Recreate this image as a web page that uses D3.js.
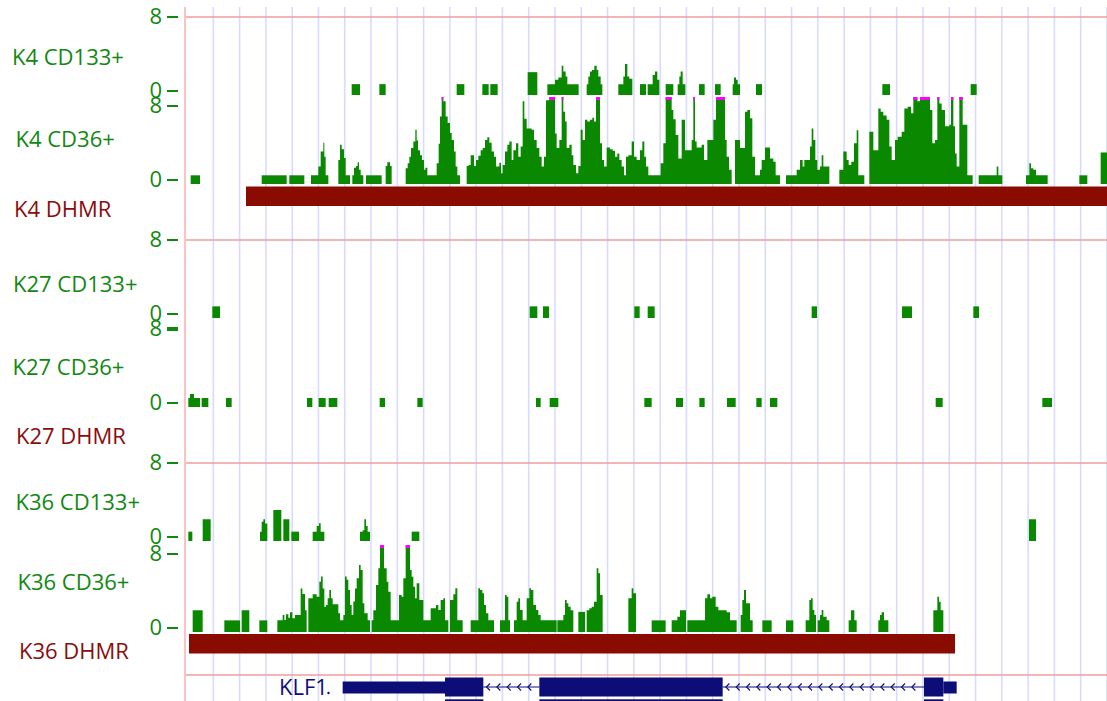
<!DOCTYPE html>
<html>
<head>
<meta charset="utf-8">
<script src="https://cdn.jsdelivr.net/npm/d3@7"></script>
<style>
  html, body { margin: 0; padding: 0; background: #fff; }
  svg { display: block; font-family: "Open Sans", "Noto Sans", sans-serif; }
</style>
</head>
<body>
<svg id="chart" width="1107" height="701"></svg>
<script>
// ---- Window and axis values (positions are bp from the window start) ----
const viewSpan = 2763;
const viewMax = 8;
const tickValues = [0, 8];
const gridStart = 82;
const gridStep = 78.85;

const trackLabels = [
  "K4 CD133+", "K4 CD36+", "K4 DHMR",
  "K27 CD133+", "K27 CD36+", "K27 DHMR",
  "K36 CD133+", "K36 CD36+", "K36 DHMR"
];

// ---- Coverage signal: [start, end, value] ----
const k4Cd133 = [
  [497,522,1.0],[580,599,1.0],[812,835,1.0],[889,908,1.0],[913,935,1.0],[1025,1054,2.1],
  [1084,1107,1.0],[1107,1117,1.4],[1117,1127,1.6],[1127,1132,2.7],[1132,1139,2.15],[1139,1144,1.7],[1144,1178,1.0],
  [1202,1207,1.0],[1207,1212,1.7],[1212,1218,2.15],[1218,1225,2.3],[1225,1232,2.7],[1232,1237,2.3],[1237,1244,1.7],[1244,1249,1.0],
  [1297,1312,1.0],[1312,1317,1.7],[1317,1324,2.85],[1324,1330,1.7],[1330,1339,1.5],
  [1362,1380,1.0],
  [1385,1400,1.0],[1400,1407,1.85],[1407,1414,2.15],[1414,1420,1.4],
  [1439,1462,1.0],
  [1475,1480,1.0],[1480,1484,1.7],[1484,1490,2.15],[1490,1498,1.0],
  [1539,1556,1.0],[1587,1604,1.0],
  [1640,1644,1.0],[1644,1650,1.6],[1650,1655,1.4],[1655,1662,1.0],
  [1710,1728,1.0],[2089,2112,1.0],[2354,2372,1.0]
];

const k4Cd36 = [
  [14,42,0.8],
  [227,302,0.8],[310,355,0.8],
  [375,397,0.8],[397,404,1.6],[404,412,3.0],[412,415,3.8],[415,419,2.5],[419,427,0.8],
  [457,462,2.2],[462,467,3.6],[467,474,3.2],[474,479,2.4],[479,492,0.8],
  [499,504,0.8],[504,510,1.5],[510,515,1.65],[515,519,2.0],[519,524,1.3],[524,532,0.8],
  [540,587,0.8],
  [599,604,1.65],[604,612,2.0],[612,617,1.65],
  [659,665,1.45],[665,670,1.9],[670,675,2.5],[675,682,3.3],[682,688,3.9],[688,692,5.0],[692,696,4.0],[696,702,3.1],
  [702,708,2.65],[708,714,2.2],[714,718,1.3],[718,724,1.5],[724,752,0.8],[752,758,1.9],[758,762,3.7],[762,767,6.2],
  [767,772,8.6],[772,779,7.6],[779,785,6.2],[785,792,5.6],[792,797,4.7],[797,804,4.05],[804,809,3.0],[809,814,1.6],[814,822,0.8],
  [842,848,1.65],[848,854,1.75],[854,864,2.65],[864,870,1.65],[870,877,2.2],[877,884,2.6],[884,890,3.1],[890,897,3.3],
  [897,904,4.05],[904,910,4.3],[910,917,3.8],[917,924,3.0],[924,930,2.5],[930,940,1.6],[940,945,1.95],[945,950,1.0],
  [950,957,1.75],[957,964,3.0],[964,970,3.6],[970,977,3.9],[977,982,2.2],[982,990,3.1],[990,997,3.75],[997,1004,2.5],
  [1004,1010,3.45],[1010,1015,7.6],[1015,1022,6.0],[1022,1037,5.1],[1037,1044,5.0],[1044,1052,4.05],[1052,1060,3.3],
  [1060,1067,2.5],[1067,1074,1.6],[1074,1080,2.5],[1080,1090,7.7],[1090,1107,8.6],[1107,1112,4.65],[1112,1120,3.3],
  [1120,1127,4.05],[1127,1132,8.6],[1132,1137,6.65],[1137,1142,5.75],[1142,1150,3.3],[1150,1157,3.6],[1157,1162,2.65],
  [1162,1170,1.75],[1170,1177,1.0],[1177,1184,1.65],[1184,1190,5.0],[1190,1197,4.05],[1197,1204,5.9],[1204,1212,5.75],
  [1212,1219,5.9],[1219,1224,6.1],[1224,1230,5.75],[1230,1242,8.6],[1242,1248,3.75],[1248,1254,2.2],[1254,1262,1.6],
  [1262,1272,3.35],[1272,1280,3.2],[1280,1287,3.05],[1287,1294,2.5],[1294,1300,2.8],[1300,1307,2.2],[1307,1314,1.6],
  [1314,1320,0.8],[1320,1327,2.5],[1327,1337,2.65],[1337,1344,3.9],[1344,1352,2.5],[1352,1362,2.2],
  [1362,1369,3.1],[1369,1375,3.9],[1375,1380,2.5],[1380,1387,1.6],[1387,1424,0.8],[1424,1432,1.9],[1432,1439,3.75],
  [1439,1457,8.6],[1457,1462,6.8],[1462,1469,5.95],[1469,1477,4.5],[1477,1487,2.35],[1487,1497,5.9],[1497,1517,3.1],
  [1517,1522,4.05],[1522,1527,8.6],[1527,1532,3.9],[1532,1547,3.35],[1547,1554,3.6],[1554,1564,2.2],[1564,1582,4.05],
  [1582,1590,5.9],[1590,1617,8.6],[1617,1622,4.05],[1622,1629,2.5],[1629,1637,1.3],
  [1647,1662,4.05],[1662,1677,3.3],[1677,1684,6.65],[1684,1692,6.8],[1692,1699,6.05],[1699,1707,2.5],[1707,1722,0.8],
  [1722,1727,1.3],[1727,1737,2.2],[1737,1752,3.35],[1752,1762,2.35],[1762,1769,2.05],[1769,1782,0.8],
  [1800,1832,0.8],[1832,1842,1.3],[1842,1850,2.2],[1850,1855,1.6],[1855,1872,2.2],[1872,1877,3.45],[1877,1882,5.1],
  [1882,1888,4.05],[1888,1894,2.2],[1894,1902,1.3],[1902,1907,1.6],[1907,1912,2.65],[1912,1930,1.6],
  [1960,1972,1.3],[1972,1982,3.0],[1982,1988,2.2],[1988,1996,1.75],[1996,2004,2.05],[2004,2012,3.75],[2012,2017,4.95],[2017,2035,0.8],
  [2050,2062,4.8],[2062,2077,3.1],[2077,2084,6.95],[2084,2092,6.65],[2092,2102,6.3],[2102,2110,5.9],[2110,2117,3.45],
  [2117,2127,2.2],[2127,2135,4.05],[2135,2147,4.35],[2147,2155,4.8],[2155,2165,6.95],[2165,2175,7.1],[2175,2182,6.5],
  [2182,2194,8.6],[2194,2202,7.6],[2202,2232,8.6],[2232,2239,6.8],[2239,2247,3.75],[2247,2254,4.05],[2254,2260,8.6],
  [2260,2267,7.4],[2267,2277,6.8],[2277,2290,5.3],[2290,2295,5.45],[2295,2302,8.6],[2302,2307,5.3],[2307,2312,2.8],
  [2312,2320,1.6],[2320,2330,8.6],[2330,2344,5.45],[2344,2360,0.8],
  [2378,2432,0.8],[2432,2437,1.6],[2437,2449,0.8],
  [2520,2530,0.8],[2530,2535,1.9],[2535,2542,1.45],[2542,2550,1.3],[2550,2585,0.8],
  [2680,2704,0.8],
  [2744,2763,2.9]
];

const k27Cd133 = [
  [79,102,1.07],[1031,1054,1.07],[1071,1089,1.07],[1345,1361,1.07],[1385,1406,1.07],
  [1877,1893,1.07],[2148,2178,1.07],[2362,2379,1.07]
];

const k27Cd36 = [
  [7,12,0.83],[12,24,1.2],[24,42,0.83],[47,67,0.83],[120,137,0.83],[363,379,0.83],[398,419,0.83],
  [428,454,0.83],[581,597,0.83],[694,710,0.83],[1050,1064,0.83],[1091,1117,0.83],[1375,1397,0.83],
  [1470,1491,0.83],[1540,1556,0.83],[1623,1649,0.83],[1711,1727,0.83],[1752,1774,0.83],
  [2249,2270,0.83],[2569,2598,0.83]
];

const k36Cd133 = [
  [7,19,0.86],[50,74,2.0],[222,227,0.86],[227,232,1.78],[232,237,2.0],[237,244,1.6],[262,286,2.85],
  [292,310,2.0],[316,339,0.86],[380,392,0.86],[392,399,1.38],[399,404,1.63],[404,415,0.86],
  [522,530,0.86],[530,535,1.0],[535,540,2.0],[540,545,1.38],[545,552,0.86],[677,700,0.86],[2529,2550,2.0]
];

const k36Cd36 = [
  [20,50,2.0],[115,162,1.07],[167,190,2.0],[220,244,1.07],
  [274,290,1.07],[290,295,1.56],[295,300,1.1],[300,307,1.63],[307,312,1.32],[312,319,1.81],[319,327,1.26],
  [327,344,1.56],[344,349,4.0],[349,357,3.5],[357,362,2.0],
  [367,380,3.1],[380,392,3.47],[392,400,3.25],[400,405,4.63],[405,410,5.1],[410,415,4.0],[415,420,2.33],
  [420,425,2.48],[425,430,3.1],[430,435,3.87],[435,440,3.1],[440,457,2.55],[457,462,1.72],
  [462,472,1.07],[472,477,1.56],[477,482,5.1],[482,487,4.8],[487,492,3.87],[492,497,2.48],[497,502,1.56],
  [502,507,2.8],[507,512,4.0],[512,519,4.94],[519,524,6.17],[524,530,5.7],[530,535,2.64],[535,545,1.72],[545,552,1.07],
  [557,562,1.07],[562,570,2.0],[570,577,4.33],[577,582,5.86],[582,594,8.6],[594,602,5.86],[602,607,4.63],
  [607,614,3.71],[614,632,1.07],
  [632,639,1.07],[639,647,3.4],[647,652,3.25],[652,659,4.94],[659,672,8.6],[672,677,5.7],[677,682,5.09],
  [682,687,4.17],[687,692,3.1],[692,700,4.48],[700,712,2.94],
  [712,734,1.07],[734,750,2.18],[750,757,2.48],[757,764,2.02],[764,772,2.94],[772,777,3.1],[777,787,1.07],
  [792,802,2.94],[802,808,3.47],[808,814,4.02],[814,830,1.07],
  [854,877,1.07],[877,882,4.02],[882,889,3.87],[889,894,3.56],[894,900,2.48],[900,907,1.72],[907,924,1.07],
  [942,957,1.07],[957,962,3.4],[962,967,3.25],[967,972,1.07],
  [984,992,1.07],[992,997,2.79],[997,1002,3.1],[1002,1010,2.02],[1010,1022,1.07],[1022,1030,3.1],[1030,1035,4.02],
  [1035,1042,3.87],[1042,1050,2.48],[1050,1057,2.02],[1057,1064,1.56],[1064,1112,1.07],
  [1114,1132,1.07],[1132,1137,1.56],[1137,1142,2.94],[1142,1147,2.64],[1147,1154,2.33],[1154,1162,2.0],
  [1177,1197,1.85],[1202,1210,2.0],[1210,1217,2.18],[1217,1224,2.33],[1224,1232,2.79],[1232,1237,5.86],
  [1237,1242,5.4],[1242,1250,3.4],
  [1327,1337,3.1],[1337,1342,4.02],[1342,1350,3.56],
  [1397,1439,1.07],
  [1457,1474,1.07],[1474,1482,1.4],[1482,1500,2.0],
  [1504,1557,1.07],[1557,1564,3.1],[1564,1572,3.47],[1572,1579,3.1],[1579,1589,3.25],[1589,1597,2.33],
  [1597,1622,2.0],[1622,1632,1.81],[1632,1652,1.07],
  [1664,1669,1.56],[1669,1674,2.94],[1674,1680,3.87],[1680,1692,2.64],[1692,1700,1.07],
  [1729,1757,1.07],[1800,1822,1.07],
  [1859,1870,1.07],[1870,1875,2.94],[1875,1880,3.1],[1880,1885,2.02],[1885,1890,1.56],
  [1895,1902,1.07],[1902,1907,1.56],[1907,1912,2.02],[1912,1922,1.4],[1922,1930,1.07],
  [1988,1995,1.07],[1995,2005,2.0],[2005,2012,1.07],
  [2077,2082,1.07],[2082,2087,1.56],[2087,2094,1.81],[2094,2107,1.07],
  [2242,2254,2.0],[2254,2259,3.25],[2259,2264,2.79],[2264,2272,2.0]
];

// ---- Differentially methylated regions: [start, end] ----
const k4Dhmr = [[180, 2763]];
const k27Dhmr = [];
const k36Dhmr = [[9, 2307]];

// ---- Gene model (minus strand) ----
const geneName = "KLF1";
const geneUtr = [[470, 777], [2272, 2312]];
const geneCds = [[777, 892], [1060, 1610], [2214, 2272]];
const geneIntrons = [[892, 1060], [1610, 2214]];

// ---- Layout ----
const W = 1107, H = 701;
const plotLeft = 186, plotRight = 1107;
const pxPerUnit = 10.875;
const colors = {
  bar: "#0a8800", clip: "#ff00ff", label: "#118811", dhmr: "#8a0b00", dhmrLabel: "#8a0c0c",
  grid: "#dadaff", sep: "#ef9c9c", edge: "#ffc2c2", gene: "#0d0d78"
};

const tracks = [
  { type: "signal", data: k4Cd133, base: 95,  lx: 12,   ly: 65 },
  { type: "signal", data: k4Cd36,  base: 184, lx: 15.5, ly: 146.5 },
  { type: "region", data: k4Dhmr,  top: 186.5, bottom: 206, lx: 14, ly: 216.5 },
  { type: "signal", data: k27Cd133, base: 318, lx: 13, ly: 291.5 },
  { type: "signal", data: k27Cd36,  base: 407, lx: 12.5, ly: 375, heavyTop: true },
  { type: "region", data: k27Dhmr,  top: 410, bottom: 430, lx: 16, ly: 443.5 },
  { type: "signal", data: k36Cd133, base: 541, lx: 15.5, ly: 510 },
  { type: "signal", data: k36Cd36,  base: 632, lx: 17.5, ly: 590 },
  { type: "region", data: k36Dhmr,  top: 634, bottom: 653.5, lx: 19, ly: 658.5 }
];
const separators = [17, 240, 463, 675];

const svg = d3.select("#chart");
svg.append("rect").attr("width", W).attr("height", H).attr("fill", "#fff");

const x = d3.scaleLinear().domain([0, viewSpan]).range([plotLeft, plotRight]);

// vertical guide lines
svg.append("g").selectAll("line")
  .data(d3.range(gridStart, viewSpan, gridStep))
  .join("line")
  .attr("x1", d => x(d)).attr("x2", d => x(d))
  .attr("y1", 7).attr("y2", H)
  .attr("stroke", colors.grid).attr("stroke-width", 1.6);

// left edge of the data area
svg.append("line")
  .attr("x1", plotLeft - 1).attr("x2", plotLeft - 1).attr("y1", 7).attr("y2", H)
  .attr("stroke", colors.edge).attr("stroke-width", 2);

// group separators
svg.append("g").selectAll("line").data(separators).join("line")
  .attr("x1", plotLeft).attr("x2", plotRight)
  .attr("y1", d => d).attr("y2", d => d)
  .attr("stroke", colors.sep).attr("stroke-width", 1.6);

const marks = svg.append("g");
const axes = svg.append("g");

tracks.forEach((t, i) => {
  const isRegion = t.type === "region";
  // track label
  svg.append("text")
    .attr("x", t.lx).attr("y", t.ly)
    .attr("font-size", 22)
    .attr("fill", isRegion ? colors.dhmrLabel : colors.label)
    .text(trackLabels[i]);

  if (isRegion) {
    marks.append("g").selectAll("rect").data(t.data).join("rect")
      .attr("x", d => x(d[0])).attr("width", d => x(d[1]) - x(d[0]))
      .attr("y", t.top).attr("height", t.bottom - t.top)
      .attr("fill", colors.dhmr);
    return;
  }

  const y = d3.scaleLinear().domain([0, viewMax]).range([t.base, t.base - viewMax * pxPerUnit]);

  // merge touching intervals into continuous step outlines
  const runs = [];
  t.data.forEach(s => {
    const last = runs[runs.length - 1];
    if (last && Math.abs(last[last.length - 1][1] - s[0]) < 0.01) last.push(s);
    else runs.push([s]);
  });
  const area = d3.area()
    .x(d => x(d[0]))
    .y0(t.base)
    .y1(d => y(Math.min(d[1], viewMax)))
    .curve(d3.curveStepAfter);
  const g = marks.append("g");
  g.selectAll("path").data(runs).join("path")
    .attr("d", run => area(run.map(s => [s[0], s[2]]).concat([[run[run.length - 1][1], run[run.length - 1][2]]])))
    .attr("fill", colors.bar);

  // values above the viewing range get a clipped marker
  g.selectAll("rect").data(t.data.filter(s => s[2] > viewMax)).join("rect")
    .attr("x", s => x(s[0])).attr("width", s => x(s[1]) - x(s[0]))
    .attr("y", y(viewMax)).attr("height", 3)
    .attr("fill", colors.clip);

  // range ticks
  const ya = d3.scaleLinear().domain([0, viewMax]).range([t.base - 4.5, t.base - 78.5]);
  const ax = axes.append("g")
    .attr("transform", "translate(178,0)")
    .call(d3.axisLeft(ya).tickValues(tickValues).tickSize(11).tickPadding(5).tickFormat(d3.format("d")));
  ax.select(".domain").remove();
  ax.selectAll("line").attr("stroke", colors.label)
    .attr("stroke-width", d => (t.heavyTop && d === viewMax) ? 4 : 2);
  ax.selectAll("text").attr("fill", colors.label).attr("font-size", 22)
    .attr("font-family", "\"Open Sans\", \"Noto Sans\", sans-serif");
});

// ---- Gene track ----
const geneMid = 687;
const gg = svg.append("g");
gg.selectAll("line.intron").data(geneIntrons).join("line")
  .attr("x1", d => x(d[0])).attr("x2", d => x(d[1]))
  .attr("y1", geneMid).attr("y2", geneMid)
  .attr("stroke", colors.gene).attr("stroke-width", 1.2);

// strand chevrons on introns
const chevrons = geneIntrons.flatMap(([a, b]) => d3.range(a + 14, b - 8, 31));
gg.selectAll("path.chev").data(chevrons).join("path")
  .attr("d", d => `M${x(d) + 2},${geneMid - 3.5}L${x(d) - 1.5},${geneMid}L${x(d) + 2},${geneMid + 3.5}`)
  .attr("fill", "none").attr("stroke", colors.gene).attr("stroke-width", 1.1);

gg.selectAll("rect.utr").data(geneUtr).join("rect")
  .attr("x", d => x(d[0])).attr("width", d => x(d[1]) - x(d[0]))
  .attr("y", 681.5).attr("height", 12)
  .attr("fill", colors.gene);
gg.selectAll("rect.cds").data(geneCds).join("rect")
  .attr("x", d => x(d[0])).attr("width", d => x(d[1]) - x(d[0]))
  .attr("y", 677.5).attr("height", 19)
  .attr("fill", colors.gene);
// next transcript row, mostly below the visible area
gg.selectAll("rect.cds2").data(geneCds).join("rect")
  .attr("x", d => x(d[0])).attr("width", d => x(d[1]) - x(d[0]))
  .attr("y", 699.3).attr("height", 19)
  .attr("fill", colors.gene);

gg.append("text")
  .attr("x", 279).attr("y", 695)
  .attr("font-size", 22).attr("fill", colors.gene)
  .text(geneName);
gg.append("circle").attr("cx", 328.5).attr("cy", 693).attr("r", 1.2).attr("fill", colors.gene);
</script>
</body>
</html>
